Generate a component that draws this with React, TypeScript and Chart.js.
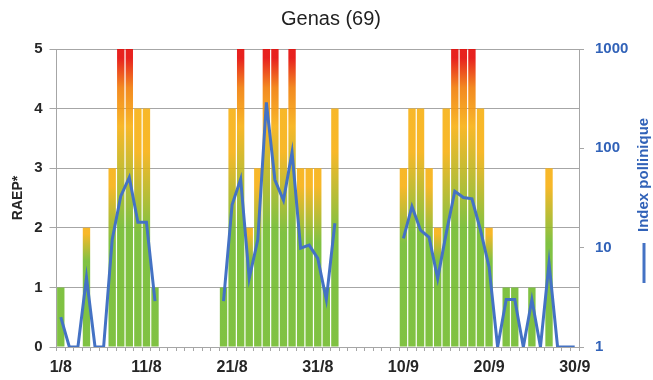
import { useEffect, useRef } from 'react';
import { Chart, registerables } from 'chart.js';

Chart.register(...registerables);

const TITLE = 'Genas (69)';
const RAEP_LABEL = 'RAEP*';
const POLLEN_LABEL = 'Index pollinique';

const DAYS = [
  '1/8', '2/8', '3/8', '4/8', '5/8', '6/8', '7/8', '8/8', '9/8', '10/8',
  '11/8', '12/8', '13/8', '14/8', '15/8', '16/8', '17/8', '18/8', '19/8', '20/8',
  '21/8', '22/8', '23/8', '24/8', '25/8', '26/8', '27/8', '28/8', '29/8', '30/8',
  '31/8', '1/9', '2/9', '3/9', '4/9', '5/9', '6/9', '7/9', '8/9', '9/9',
  '10/9', '11/9', '12/9', '13/9', '14/9', '15/9', '16/9', '17/9', '18/9', '19/9',
  '20/9', '21/9', '22/9', '23/9', '24/9', '25/9', '26/9', '27/9', '28/9', '29/9',
  '30/9',
];

const SHOWN_DAYS = ['1/8', '11/8', '21/8', '31/8', '10/9', '20/9', '30/9'];

// Allergy risk level (RAEP), 0 to 5
const RAEP = [
  1, 0, 0, 2, 0, 0, 3, 5, 5, 4, 4, 1,
  0, 0, 0, 0, 0, 0, 0,
  1, 4, 5, 2, 3, 5, 5, 4, 5, 3, 3, 3, 1, 4,
  0, 0, 0, 0, 0, 0, 0,
  3, 4, 4, 3, 2, 4, 5, 5, 5, 4, 2, 0, 1, 1, 0, 1, 0, 3, 0, 0, 0,
];

// Pollen index (log scale); null = no measurement
const POLLEN = [
  2, 1, 1, 5, 1, 1, 12, 33, 51, 18, 18, 2.9,
  null, null, null, null, null, null, null,
  2.9, 27, 49, 4.9, 12, 290, 48, 30, 91, 9.9, 10.6, 7.8, 3, 17.6,
  null, null, null, null, null, null, null,
  12.4, 26, 15, 12.7, 4.9, 14, 37, 32, 31, 15, 6.4, 1, 3, 3, 1, 3, 1, 7, 1, 1, 1,
];

const RAEP_TICKS = [0, 1, 2, 3, 4, 5];
const POLLEN_TICKS = [1, 10, 100, 1000];

const GREEN = 'rgba(114,187,46,0.9)';
const AMBER = 'rgba(247,176,18,0.9)';
const ORANGE = 'rgba(241,125,9,0.9)';
const RED = 'rgba(229,9,6,0.9)';
const BLUE = '#4472c4';
const BLUE_TEXT = '#3162b8';
const AXIS_GREY = '#a6a6a6';
const TEXT = '#262626';
const FONT = '"Liberation Sans", Arial, sans-serif';

// colour stops (fraction of bar height) for each risk level
const LEVEL_STOPS: Record<number, [number, string][]> = {
  1: [[0, GREEN], [1, GREEN]],
  2: [[0, GREEN], [0.72, GREEN], [0.95, AMBER], [1, AMBER]],
  3: [[0, GREEN], [0.58, GREEN], [0.9, AMBER], [1, AMBER]],
  4: [[0, GREEN], [0.48, GREEN], [0.82, AMBER], [1, AMBER]],
  5: [[0, GREEN], [0.4, GREEN], [0.74, AMBER], [0.87, ORANGE], [0.97, RED], [1, RED]],
};

function barFill(context: any) {
  const chart = context.chart;
  const v = context.raw as number;
  if (!chart.chartArea || !v) return GREEN;
  const yScale = chart.scales.y;
  const y0 = yScale.getPixelForValue(0);
  const y1 = yScale.getPixelForValue(v);
  const g = chart.ctx.createLinearGradient(0, y0, 0, y1);
  for (const [p, c] of LEVEL_STOPS[v] || LEVEL_STOPS[1]) g.addColorStop(p, c);
  return g;
}

const decorations = {
  id: 'decorations',
  afterDraw(chart: any) {
    const c = chart.ctx as CanvasRenderingContext2D;
    c.save();
    c.font = `20px ${FONT}`;
    c.fillStyle = '#1f1f1f';
    c.textAlign = 'center';
    c.textBaseline = 'middle';
    c.fillText(TITLE, 331, 19);

    // series key on the right, reading upwards
    c.translate(644, 283);
    c.rotate(-Math.PI / 2);
    c.strokeStyle = BLUE;
    c.lineWidth = 3;
    c.beginPath();
    c.moveTo(0, 0);
    c.lineTo(40, 0);
    c.stroke();
    c.font = `bold 15px ${FONT}`;
    c.fillStyle = BLUE_TEXT;
    c.textAlign = 'left';
    c.fillText(POLLEN_LABEL, 51, 0);
    c.restore();
  },
};

export default function App() {
  const ref = useRef<HTMLCanvasElement>(null);

  useEffect(() => {
    const chart = new Chart(ref.current!, {
      data: {
        labels: DAYS,
        datasets: [
          {
            type: 'line',
            label: POLLEN_LABEL,
            data: POLLEN,
            yAxisID: 'y1',
            borderColor: BLUE,
            borderWidth: 3,
            pointRadius: 0,
            tension: 0,
            spanGaps: false,
            order: 0,
          },
          {
            type: 'bar',
            label: RAEP_LABEL,
            data: RAEP,
            yAxisID: 'y',
            backgroundColor: barFill,
            borderWidth: 0,
            categoryPercentage: 1,
            barPercentage: 0.86,
            order: 1,
          },
        ],
      } as any,
      options: {
        responsive: false,
        animation: false,
        layout: { padding: { top: 49, left: 0, right: 0, bottom: 0 } },
        plugins: {
          legend: { display: false },
          tooltip: { enabled: false },
          title: { display: false },
        },
        scales: {
          x: {
            type: 'category',
            offset: true,
            grid: {
              offset: true,
              drawOnChartArea: false,
              drawTicks: true,
              tickLength: 4,
              tickColor: AXIS_GREY,
            },
            border: { display: true, color: AXIS_GREY },
            ticks: {
              autoSkip: false,
              maxRotation: 0,
              minRotation: 0,
              padding: 7,
              color: TEXT,
              font: { family: FONT, size: 16, weight: 'bold' },
              callback: (_v: any, i: number) => (SHOWN_DAYS.includes(DAYS[i]) ? DAYS[i] : ''),
            },
            afterFit: (s: any) => {
              s.height = 33;
            },
          },
          y: {
            position: 'left',
            min: 0,
            max: 5,
            afterBuildTicks: (s: any) => {
              s.ticks = RAEP_TICKS.map((value) => ({ value }));
            },
            grid: {
              color: AXIS_GREY,
              lineWidth: 1,
              drawTicks: true,
              tickLength: 7,
              tickColor: AXIS_GREY,
            },
            border: { display: true, color: AXIS_GREY },
            ticks: {
              padding: 7,
              color: TEXT,
              font: { family: FONT, size: 15, weight: 'bold' },
            },
            title: {
              display: true,
              text: RAEP_LABEL,
              color: TEXT,
              font: { family: FONT, size: 14, weight: 'bold' },
              padding: { top: 10, bottom: 0 },
            },
            afterFit: (s: any) => {
              s.width = 56.5;
            },
          },
          y1: {
            type: 'logarithmic',
            position: 'right',
            min: 1,
            max: 1000,
            afterBuildTicks: (s: any) => {
              s.ticks = POLLEN_TICKS.map((value) => ({ value }));
            },
            grid: {
              drawOnChartArea: false,
              drawTicks: true,
              tickLength: 5,
              tickColor: AXIS_GREY,
            },
            border: { display: true, color: AXIS_GREY },
            ticks: {
              padding: 11,
              color: BLUE_TEXT,
              font: { family: FONT, size: 15, weight: 'bold' },
              callback: (v: any) => String(v),
            },
            afterFit: (s: any) => {
              s.width = 74;
            },
          },
        },
      } as any,
      plugins: [decorations],
    });
    return () => chart.destroy();
  }, []);

  return (
    <div style={{ position: 'fixed', left: 0, top: 0, width: 653, height: 380, background: '#fff' }}>
      <canvas ref={ref} width={653} height={380} style={{ display: 'block' }} />
    </div>
  );
}
